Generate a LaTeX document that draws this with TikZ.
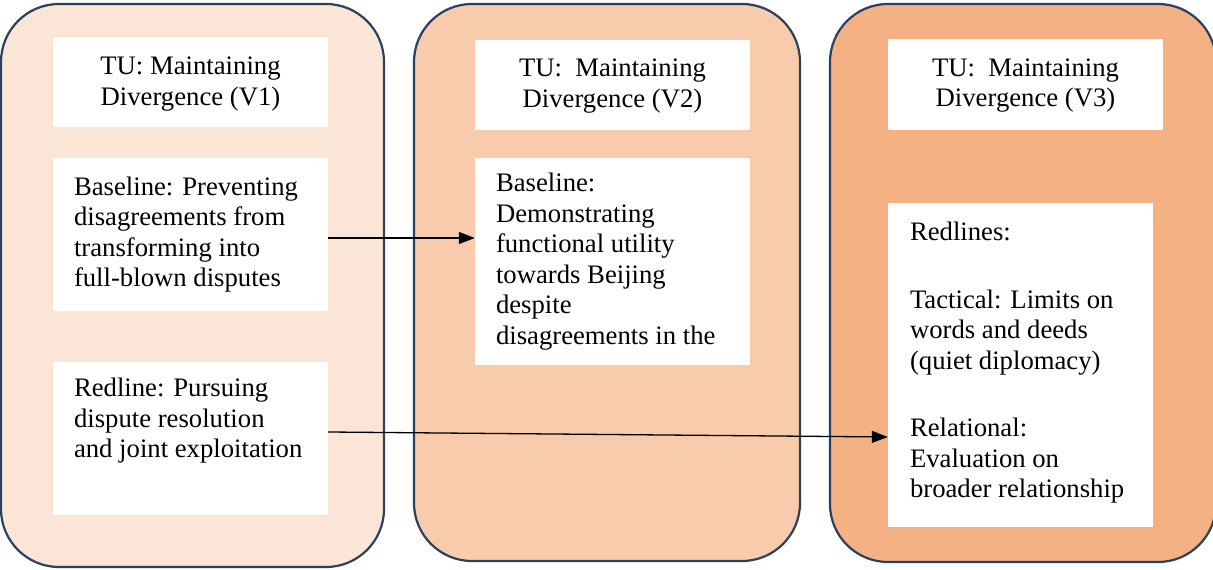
\documentclass[tikz,border=0pt]{standalone}
\usepackage{fontspec}
\setmainfont{Liberation Serif}
\usetikzlibrary{arrows.meta}
\definecolor{paneA}{HTML}{FBE5D6}
\definecolor{paneB}{HTML}{F8CBAD}
\definecolor{paneC}{HTML}{F4B183}
\definecolor{edge}{HTML}{2B3F5F}

\begin{document}
\begin{tikzpicture}[x=1pt, y=1pt,
  panel/.style={draw=edge, line width=2.2pt, rounded corners=58pt},
  card/.style={fill=white, inner sep=0pt},
  head/.style={align=center, inner sep=0pt, font=\fontsize{26.7}{30.5}\selectfont},
  txt/.style={align=left, inner sep=0pt, font=\fontsize{26.7}{30.5}\selectfont},
  link/.style={line width=1.3pt, -{Triangle[length=16pt, width=12pt]}}]
\useasboundingbox (0,0) rectangle (1213,570);
\clip (0,0) rectangle (1213,570);

%Panelene
\node[panel, fill=paneA, minimum width=383pt, minimum height=563pt] (p1) at (192.5,284.5) {};
\node[panel, fill=paneB, minimum width=386pt, minimum height=557pt] (p2) at (607,287.5) {};
\node[panel, fill=paneC, minimum width=386pt, minimum height=558pt] (p3) at (1023,287) {};

%Hvite bokser
\node[card, minimum width=275pt, minimum height=90pt] (t1) at (190.5,488) {};
\node[card, minimum width=275pt, minimum height=153pt] (b1) at (190.5,335.5) {};
\node[card, minimum width=275pt, minimum height=153pt] (r1) at (190.5,131.5) {};
\node[card, minimum width=275pt, minimum height=90pt] (t2) at (612.5,485) {};
\node[card, minimum width=275pt, minimum height=207pt] (b2) at (612.5,308.5) {};
\node[card, minimum width=275pt, minimum height=91pt] (t3) at (1025.5,485.5) {};
\node[card, minimum width=265pt, minimum height=324pt] (r3) at (1020.5,205) {};

%Tekst
\node[head] (t1txt) at ([yshift=-2pt]t1) {TU: Maintaining\\Divergence (V1)};
\node[head] (t2txt) at ([yshift=-1pt]t2) {TU:\ \ Maintaining\\Divergence (V2)};
\node[head] (t3txt) at ([yshift=-1pt]t3) {TU:\ \ Maintaining\\Divergence (V3)};
\node[txt, anchor=west] (b1txt) at ([xshift=21pt]b1.west)
  {Baseline: Preventing\\disagreements from\\transforming into\\full-blown disputes};
\node[txt, anchor=north west] (r1txt) at ([xshift=21pt, yshift=-16pt]r1.north west)
  {Redline: Pursuing\\dispute resolution\\and joint exploitation};
\node[txt, anchor=west] (b2txt) at ([xshift=21pt]b2.west)
  {Baseline:\\Demonstrating\\functional utility\\towards Beijing\\despite\\disagreements in the};
\node[txt, anchor=west] (r3txt) at ([xshift=22pt, yshift=2pt]r3.west)
  {Redlines:\\[37pt]Tactical: Limits on\\words and deeds\\(quiet diplomacy)\\[37pt]Relational:\\Evaluation on\\broader relationship};

%Pilene
\draw[link] ([yshift=-3.5pt]b1.east) -- ([yshift=-3.5pt]b1.east -| b2.west);
\draw[link] ([yshift=6.5pt]r1.east) -- (r3.west |- 0,133);

\end{tikzpicture}
\end{document}
